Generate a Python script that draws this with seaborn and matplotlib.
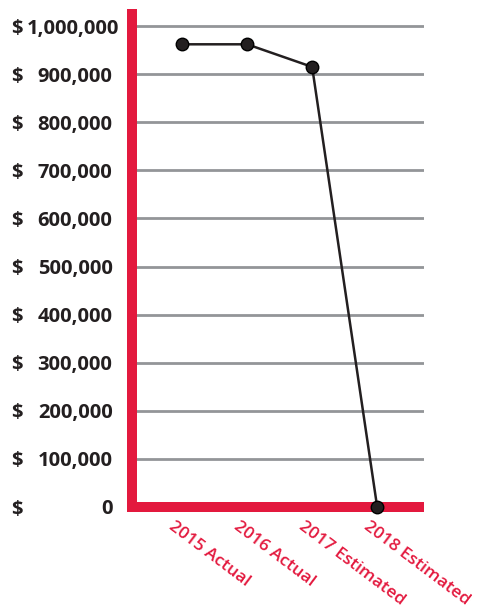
import matplotlib
matplotlib.use("Agg")
import matplotlib.pyplot as plt
import matplotlib.transforms as mtransforms
import seaborn as sns
import pandas as pd

categories = ["2015 Actual", "2016 Actual", "2017 Estimated", "2018 Estimated"]
values = [962000, 962000, 915000, 0]
ytick_values = [0, 100000, 200000, 300000, 400000, 500000, 600000, 700000, 800000, 900000, 1000000]
ytick_labels = ["0", "100,000", "200,000", "300,000", "400,000", "500,000",
                "600,000", "700,000", "800,000", "900,000", "1,000,000"]

RED = "#E3193E"
DARK = "#231F20"
GRID = "#939598"

sns.set_style("white")
plt.rcParams["font.family"] = ["Open Sans", "DejaVu Sans"]

W, H = 479, 612
fig = plt.figure(figsize=(W / 100, H / 100), dpi=100)
left_px, right_px, top_px, bottom_px = 132, 424, 14, 507
ax = fig.add_axes([left_px / W, 1 - bottom_px / H, (right_px - left_px) / W, (bottom_px - top_px) / H])

df = pd.DataFrame({"cat": categories, "val": values})
sns.lineplot(data=df, x="cat", y="val", sort=False, ax=ax, color=DARK, linewidth=1.8,
             marker="o", markersize=9, markerfacecolor=DARK, markeredgecolor="black",
             markeredgewidth=1.0, zorder=10, clip_on=False)

xmin, xmax = -0.77, 3.72
ymax = 1025000
ax.set_xlim(xmin, xmax)
ax.set_ylim(0, ymax)

for v in ytick_values[1:]:
    ax.axhline(v, color=GRID, linewidth=2.0, zorder=1)

ax.set_yticks(ytick_values)
ax.set_yticklabels(ytick_labels, fontsize=14.5, fontweight="bold", color=DARK)
ax.tick_params(axis="y", length=0, pad=14)
top_lbl = ax.get_yticklabels()[-1]
top_lbl.set_transform(top_lbl.get_transform() +
                      mtransforms.ScaledTranslation(7 / 100, 0, fig.dpi_scale_trans))

ax.set_xticks(range(len(categories)))
ax.set_xticklabels(categories, fontsize=12.5, fontweight="semibold", color=RED, rotation=-37,
                   ha="left", va="top", rotation_mode="anchor")
ax.tick_params(axis="x", length=0, pad=8)
offset = mtransforms.ScaledTranslation(-7 / 100, 0, fig.dpi_scale_trans)
for lbl in ax.get_xticklabels():
    lbl.set_transform(lbl.get_transform() + offset)

# dollar signs
trans = mtransforms.blended_transform_factory(fig.transFigure, ax.transData)
for v in ytick_values:
    ax.text(11 / W, v, "$", transform=trans, fontsize=14.5, fontweight="bold",
            color=DARK, ha="left", va="center_baseline")

ax.set_xlabel("")
ax.set_ylabel("")
for s in ["top", "right"]:
    ax.spines[s].set_visible(False)
for s in ["left", "bottom"]:
    ax.spines[s].set_color(RED)
    ax.spines[s].set_linewidth(7.2)
    ax.spines[s].set_zorder(5)
ax.spines["left"].set_bounds(0, ymax)
ax.spines["bottom"].set_bounds(xmin, xmax - 5 / 65)

fig.savefig("out.png", dpi=100)
